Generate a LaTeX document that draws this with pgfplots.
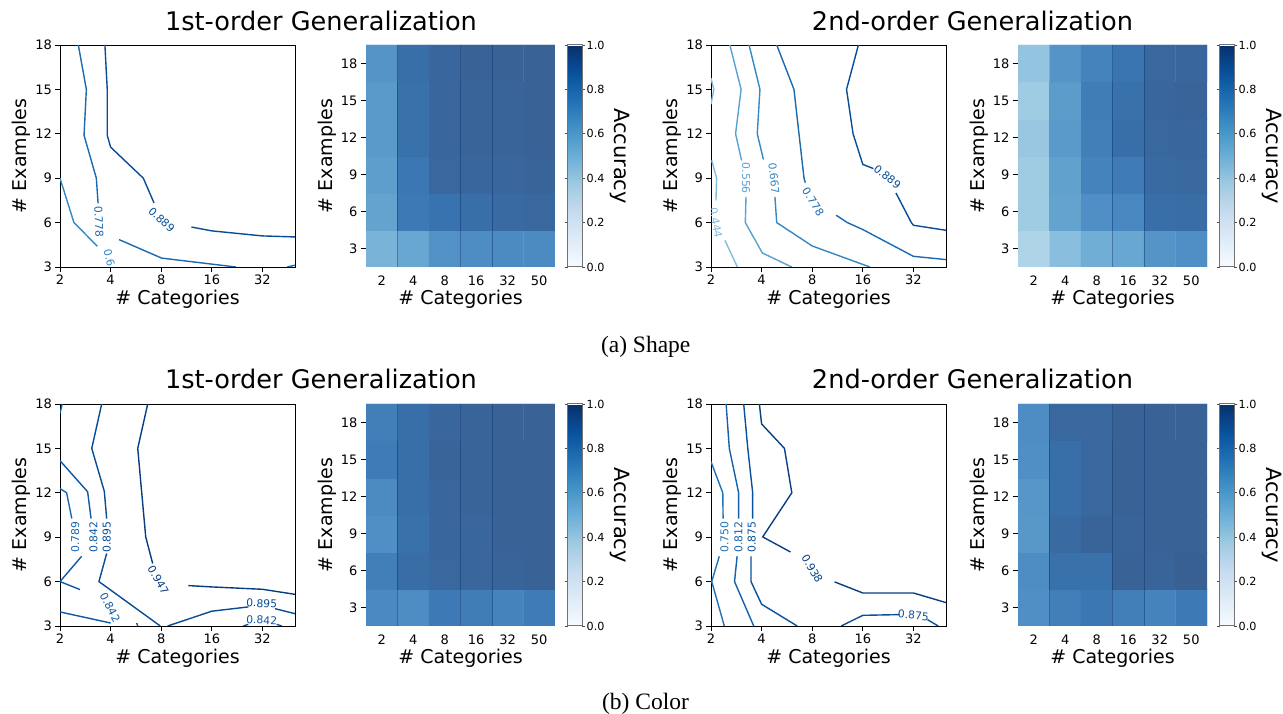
\documentclass[border=0pt]{standalone}
\usepackage{fontspec}
\setmainfont{DejaVu Sans}
\newfontfamily\capfont{Liberation Serif}
\usepackage{pgfplots}
\pgfplotsset{compat=1.18}

\newcommand{\fTitle}{\fontsize{25.6pt}{30pt}\selectfont}
\newcommand{\fLabel}{\fontsize{19pt}{22pt}\selectfont}
\newcommand{\fTick}{\fontsize{13pt}{15pt}\selectfont}
\newcommand{\fCb}{\fontsize{11.2pt}{13pt}\selectfont}
\newcommand{\fAcc}{\fontsize{21pt}{24pt}\selectfont}
\newcommand{\fCl}{\fontsize{10.8pt}{12pt}\selectfont}

% contour level colours (Blues at the level value)
\definecolor{c444}{RGB}{130,187,219}
\definecolor{c556}{RGB}{89,161,207}
\definecolor{c667}{RGB}{55,135,192}
\definecolor{c778}{RGB}{27,106,175}
\definecolor{c889}{RGB}{8,77,150}
\definecolor{c789}{RGB}{25,103,173}
\definecolor{c842}{RGB}{15,89,163}
\definecolor{c895}{RGB}{8,76,148}
\definecolor{c947}{RGB}{8,62,128}
\definecolor{c750}{RGB}{33,113,181}
\definecolor{c812}{RGB}{21,97,169}
\definecolor{c875}{RGB}{8,81,156}
\definecolor{c938}{RGB}{8,64,131}
\definecolor{seam}{RGB}{8,48,107}

\pgfplotsset{
  colormap={blues}{rgb255=(247,251,255) rgb255=(222,235,247) rgb255=(198,219,239)
    rgb255=(158,202,225) rgb255=(107,174,214) rgb255=(66,146,198) rgb255=(33,113,181)
    rgb255=(8,81,156) rgb255=(8,48,107)},
  % same map seen through alpha 0.8 on white
  colormap={bluesA}{rgb255=(249,252,255) rgb255=(229,239,249) rgb255=(209,226,242)
    rgb255=(177,213,231) rgb255=(137,190,222) rgb255=(104,168,209) rgb255=(77,141,196)
    rgb255=(57,116,176) rgb255=(57,89,137)},
  /pgfplots/mybase/.style={
    scale only axis, anchor=south west,
    ticklabel style={font=\fTick},
    label style={font=\fLabel},
    xlabel={\# Categories}, ylabel={\# Examples},
    xlabel style={at={([yshift=-23pt]axis description cs:0.5,0)}, anchor=north, inner sep=0pt},
    ylabel style={at={([xshift=-29.5pt]axis description cs:0,0.5)}, anchor=south, inner sep=0pt},
    tick align=outside, tick pos=left,
  },
  /pgfplots/mycont/.style={
    mybase, width=235pt, height=222pt,
    xmin=2, xmax=50, ymin=3, ymax=18,
    xtick={2,4,8,16,32}, xticklabels={2,4,8,16,32},
    ytick={3,6,9,12,15,18}, yticklabels={3,6,9,12,15,18},
    major tick length=5pt,
    tick style={black, line width=0.8pt},
    axis line style={black, line width=0.8pt},
    xticklabel style={inner sep=0pt, yshift=-2.5pt},
    yticklabel style={inner sep=0pt, xshift=-3pt},
  },
  /pgfplots/myheat/.style={
    mybase, width=189pt, height=222pt,
    xmin=-0.5, xmax=5.5, ymin=-0.5, ymax=5.5,
    xtick={0,...,5}, xticklabels={2,4,8,16,32,50},
    ytick={0,...,5}, yticklabels={3,6,9,12,15,18},
    axis line style={draw=none},
    major tick length=5.5pt,
    xtick style={draw=none}, ytick style={black, line width=0.8pt},
    xticklabel style={inner sep=0pt, yshift=-3.5pt},
    yticklabel style={inner sep=0pt, xshift=-3pt},
    colormap name=bluesA, point meta min=0, point meta max=1,
    colorbar,
    colorbar style={
      colormap name=blues,
      at={(parent axis.north east)}, anchor=north west, xshift=4pt,
      width=14.5pt, scale only axis,
      ytick={0,0.2,0.4,0.6,0.8,1}, yticklabels={0.0,0.2,0.4,0.6,0.8,1.0},
      yticklabel style={font=\fCb, inner sep=0pt, xshift=1.5pt},
      major tick length=3pt, tick align=outside,
      ytick style={black!70, line width=0.7pt},
      axis line style={black!55, line width=1pt},
      ylabel={Accuracy},
      ylabel style={font=\fAcc, rotate=180, at={([xshift=38pt]axis description cs:1,0.5)},
        anchor=center, inner sep=0pt},
    },
  },
  /pgfplots/cl/.style={line width=1.4pt, mark=none},
  /pgfplots/seamline/.style={seam, opacity=0.45, line width=0.8pt, mark=none},
}

\begin{document}
\begin{tikzpicture}
\useasboundingbox (0,0) rectangle (1283pt,714pt);

% ---------------- titles and captions
\node[font=\fTitle, anchor=base] at (321pt,683.7pt) {1st-order Generalization};
\node[font=\fTitle, anchor=base] at (972.5pt,683.7pt) {2nd-order Generalization};
\node[font=\fTitle, anchor=base] at (321pt,325.3pt) {1st-order Generalization};
\node[font=\fTitle, anchor=base] at (972.5pt,325.3pt) {2nd-order Generalization};
\node[font=\capfont\fontsize{23.5pt}{26pt}\selectfont, anchor=base] at (645.7pt,361.5pt) {(a) Shape};
\node[font=\capfont\fontsize{23.5pt}{26pt}\selectfont, anchor=base] at (645.5pt,4pt) {(b) Color};

% ---------------- (a) shape, 1st order, contour
\begin{semilogxaxis}[mycont, log basis x=2, at={(60pt,447pt)}]
\addplot[cl, c667] coordinates {(2,9) (2.42,6) (3.34,4.4)};
\addplot[cl, c778] coordinates {(2.57,18) (2.87,15) (2.78,11.9) (3.29,9) (3.37,7.3)};
\addplot[cl, c778] coordinates {(4.49,4.85) (8.05,3.6) (22.2,3)};
\addplot[cl, c778] coordinates {(45,3) (50,3.12)};
\addplot[cl, c889] coordinates {(3.7,18) (3.82,15) (3.82,11.9) (4,11.1) (6.26,9) (7.25,7.33)};
\addplot[cl, c889] coordinates {(12.1,5.7) (16,5.44) (32,5.1) (50,5.03)};
\node[font=\fCl, text=c778, rotate=-88] at (axis cs:3.41,6.06) {0.778};
\node[font=\fCl, text=c889, rotate=-43] at (axis cs:8.05,6.18) {0.889};
\node[font=\fCl, text=c667, rotate=-75] at (axis cs:3.93,3.62) {0.6};
\end{semilogxaxis}

% ---------------- (a) shape, 1st order, heatmap
\begin{axis}[myheat, at={(366pt,447pt)}]
\addplot[matrix plot*, mesh/cols=6, point meta=explicit] coordinates {
(0,0) [0.56] (1,0) [0.63] (2,0) [0.73] (3,0) [0.75] (4,0) [0.76] (5,0) [0.76]
(0,1) [0.65] (1,1) [0.85] (2,1) [0.88] (3,1) [0.90] (4,1) [0.92] (5,1) [0.93]
(0,2) [0.67] (1,2) [0.86] (2,2) [0.93] (3,2) [0.94] (4,2) [0.94] (5,2) [0.95]
(0,3) [0.69] (1,3) [0.89] (2,3) [0.94] (3,3) [0.95] (4,3) [0.95] (5,3) [0.96]
(0,4) [0.69] (1,4) [0.89] (2,4) [0.94] (3,4) [0.95] (4,4) [0.95] (5,4) [0.96]
(0,5) [0.72] (1,5) [0.90] (2,5) [0.94] (3,5) [0.96] (4,5) [0.96] (5,5) [0.96]
};
\addplot[seamline] coordinates {(0.5,-0.5) (0.5,5.5)};
\addplot[seamline] coordinates {(2.5,-0.5) (2.5,5.5)};
\addplot[seamline] coordinates {(3.5,-0.5) (3.5,5.5)};
\end{axis}

% ---------------- (a) shape, 2nd order, contour
\begin{semilogxaxis}[mycont, log basis x=2, at={(711pt,447pt)}]
\addplot[cl, c444] coordinates {(2,15.75) (2.08,15) (2,14)};
\addplot[cl, c444] coordinates {(2.02,10.2) (2.16,9) (2.14,7.5)};
\addplot[cl, c444] coordinates {(2.42,4.8) (2.87,3)};
\addplot[cl, c556] coordinates {(2.59,18) (3.02,15) (2.8,12) (3.04,10.2)};
\addplot[cl, c556] coordinates {(3.23,7.74) (3.2,6) (4.04,3.95) (6.04,3)};
\addplot[cl, c667] coordinates {(3.37,18) (3.91,15) (3.77,12) (4.1,10.26)};
\addplot[cl, c667] coordinates {(4.8,7.74) (4.92,6) (8,4.42) (17.6,3)};
\addplot[cl, c778] coordinates {(4.92,18) (6.23,15) (7.15,9) (7.28,8.7)};
\addplot[cl, c778] coordinates {(11.1,6.5) (12.94,6) (16,5.53) (32,3.72) (50,3.5)};
\addplot[cl, c889] coordinates {(15.06,18) (12.8,15) (14,12) (16,9.93) (18.5,9.65)};
\addplot[cl, c889] coordinates {(25.2,8) (31.1,6) (32,5.82) (50,5.48)};
\node[font=\fCl, text=c444, rotate=-80] at (axis cs:2.14,5.99) {0.444};
\node[font=\fCl, text=c556, rotate=-90] at (axis cs:3.23,8.99) {0.556};
\node[font=\fCl, text=c667, rotate=-84] at (axis cs:4.74,8.99) {0.667};
\node[font=\fCl, text=c778, rotate=-58] at (axis cs:8.11,7.41) {0.778};
\node[font=\fCl, text=c889, rotate=-39] at (axis cs:22.4,9.1) {0.889};
\end{semilogxaxis}

% ---------------- (a) shape, 2nd order, heatmap
\begin{axis}[myheat, at={(1018pt,447pt)}]
\addplot[matrix plot*, mesh/cols=6, point meta=explicit] coordinates {
(0,0) [0.38] (1,0) [0.50] (2,0) [0.59] (3,0) [0.63] (4,0) [0.72] (5,0) [0.74]
(0,1) [0.43] (1,1) [0.65] (2,1) [0.74] (3,1) [0.78] (4,1) [0.90] (5,1) [0.91]
(0,2) [0.43] (1,2) [0.66] (2,2) [0.80] (3,2) [0.84] (4,2) [0.92] (5,2) [0.93]
(0,3) [0.45] (1,3) [0.69] (2,3) [0.82] (3,3) [0.90] (4,3) [0.93] (5,3) [0.94]
(0,4) [0.43] (1,4) [0.68] (2,4) [0.83] (3,4) [0.89] (4,4) [0.94] (5,4) [0.95]
(0,5) [0.47] (1,5) [0.72] (2,5) [0.80] (3,5) [0.87] (4,5) [0.93] (5,5) [0.94]
};
\addplot[seamline] coordinates {(2.5,-0.5) (2.5,5.5)};
\addplot[seamline] coordinates {(3.5,-0.5) (3.5,5.5)};
\end{axis}

% ---------------- (b) color, 1st order, contour
\begin{semilogxaxis}[mycont, log basis x=2, at={(60pt,88pt)}]
\addplot[cl, c842] coordinates {(2,17.37) (2.06,18)};
\addplot[cl, c842] coordinates {(2,14.17) (2.92,12.07) (3.06,10.26)};
\addplot[cl, c789] coordinates {(2,12.29) (2.19,12) (2.35,10.26)};
\addplot[cl, c895] coordinates {(3.54,18) (3.09,15) (3.67,12.1) (3.79,10.26)};
\addplot[cl, c842] coordinates {(2.69,7.71) (2,6) (2.63,5.46)};
\addplot[cl, c895] coordinates {(3.79,7.9) (3.41,6) (7.9,3)};
\addplot[cl, c842] coordinates {(2,3.95) (4,3.2)};
\addplot[cl, c842] coordinates {(5.72,3.2) (5.8,3)};
\addplot[cl, c895] coordinates {(8.74,3) (16,4.0) (26.4,4.29)};
\addplot[cl, c895] coordinates {(38,4.17) (50,3.83)};
\addplot[cl, c947] coordinates {(11.6,5.73) (16,5.64) (32,5.48) (50,5.14)};
\addplot[cl, c947] coordinates {(6.65,18) (5.8,15) (6.47,9.02) (7.12,7.22)};
\addplot[cl, c842] coordinates {(24.6,3) (26.4,3.11)};
\addplot[cl, c842] coordinates {(38.9,3.11) (41.7,3)};
\node[font=\fCl, text=c789, rotate=90] at (axis cs:2.46,9.0) {0.789};
\node[font=\fCl, text=c842, rotate=90] at (axis cs:3.16,9.0) {0.842};
\node[font=\fCl, text=c895, rotate=90] at (axis cs:3.79,9.0) {0.895};
\node[font=\fCl, text=c947, rotate=-60] at (axis cs:7.69,6.09) {0.947};
\node[font=\fCl, text=c842, rotate=-62] at (axis cs:3.97,4.24) {0.842};
\node[font=\fCl, text=c895, rotate=-3] at (axis cs:31.7,4.52) {0.895};
\node[font=\fCl, text=c842, rotate=-3] at (axis cs:31.7,3.39) {0.842};
\end{semilogxaxis}

% ---------------- (b) color, 1st order, heatmap
\begin{axis}[myheat, at={(366pt,88pt)}]
\addplot[matrix plot*, mesh/cols=6, point meta=explicit] coordinates {
(0,0) [0.77] (1,0) [0.75] (2,0) [0.85] (3,0) [0.83] (4,0) [0.80] (5,0) [0.84]
(0,1) [0.82] (1,1) [0.91] (2,1) [0.93] (3,1) [0.94] (4,1) [0.95] (5,1) [0.96]
(0,2) [0.74] (1,2) [0.89] (2,2) [0.94] (3,2) [0.94] (4,2) [0.96] (5,2) [0.96]
(0,3) [0.76] (1,3) [0.90] (2,3) [0.94] (3,3) [0.95] (4,3) [0.96] (5,3) [0.96]
(0,4) [0.84] (1,4) [0.90] (2,4) [0.95] (3,4) [0.95] (4,4) [0.96] (5,4) [0.96]
(0,5) [0.82] (1,5) [0.90] (2,5) [0.94] (3,5) [0.95] (4,5) [0.96] (5,5) [0.96]
};
\addplot[seamline] coordinates {(0.5,-0.5) (0.5,5.5)};
\addplot[seamline] coordinates {(2.5,-0.5) (2.5,5.5)};
\addplot[seamline] coordinates {(3.5,-0.5) (3.5,5.5)};
\end{axis}

% ---------------- (b) color, 2nd order, contour
\begin{semilogxaxis}[mycont, log basis x=2, at={(711pt,88pt)}]
\addplot[cl, c750] coordinates {(2,14.1) (2.35,12) (2.36,10.26)};
\addplot[cl, c750] coordinates {(2.24,7.71) (2.02,6) (2.4,3)};
\addplot[cl, c812] coordinates {(2.46,18) (2.57,15) (2.92,12) (2.92,10.26)};
\addplot[cl, c812] coordinates {(2.86,7.71) (2.76,6) (3.59,3)};
\addplot[cl, c875] coordinates {(3.13,18) (3.31,15) (3.54,12) (3.54,10.26)};
\addplot[cl, c875] coordinates {(3.46,7.71) (3.46,6) (4,4.47) (6.51,3)};
\addplot[cl, c875] coordinates {(11.9,3) (16,3.72) (26.5,3.77)};
\addplot[cl, c875] coordinates {(38.8,3.43) (44.9,3)};
\addplot[cl, c938] coordinates {(3.88,18) (4,16.65) (5.47,15) (6.05,12) (4.06,9.02) (5.94,8.0)};
\addplot[cl, c938] coordinates {(10.87,5.98) (16,5.23) (32,5.23) (50,4.58)};
\node[font=\fCl, text=c750, rotate=90] at (axis cs:2.40,9.02) {0.750};
\node[font=\fCl, text=c812, rotate=90] at (axis cs:2.91,9.02) {0.812};
\node[font=\fCl, text=c875, rotate=90] at (axis cs:3.49,9.02) {0.875};
\node[font=\fCl, text=c938, rotate=-60] at (axis cs:8.0,6.88) {0.938};
\node[font=\fCl, text=c875, rotate=-5] at (axis cs:32,3.72) {0.875};
\end{semilogxaxis}

% ---------------- (b) color, 2nd order, heatmap
\begin{axis}[myheat, at={(1018pt,88pt)}]
\addplot[matrix plot*, mesh/cols=6, point meta=explicit] coordinates {
(0,0) [0.74] (1,0) [0.82] (2,0) [0.86] (3,0) [0.82] (4,0) [0.80] (5,0) [0.85]
(0,1) [0.75] (1,1) [0.89] (2,1) [0.89] (3,1) [0.96] (4,1) [0.95] (5,1) [0.97]
(0,2) [0.70] (1,2) [0.92] (2,2) [0.95] (3,2) [0.95] (4,2) [0.96] (5,2) [0.96]
(0,3) [0.71] (1,3) [0.90] (2,3) [0.93] (3,3) [0.96] (4,3) [0.96] (5,3) [0.96]
(0,4) [0.74] (1,4) [0.90] (2,4) [0.93] (3,4) [0.96] (4,4) [0.96] (5,4) [0.96]
(0,5) [0.75] (1,5) [0.93] (2,5) [0.93] (3,5) [0.96] (4,5) [0.96] (5,5) [0.96]
};
\addplot[seamline] coordinates {(0.5,-0.5) (0.5,5.5)};
\addplot[seamline] coordinates {(2.5,-0.5) (2.5,5.5)};
\addplot[seamline] coordinates {(3.5,-0.5) (3.5,5.5)};
\end{axis}
\end{tikzpicture}
\end{document}
